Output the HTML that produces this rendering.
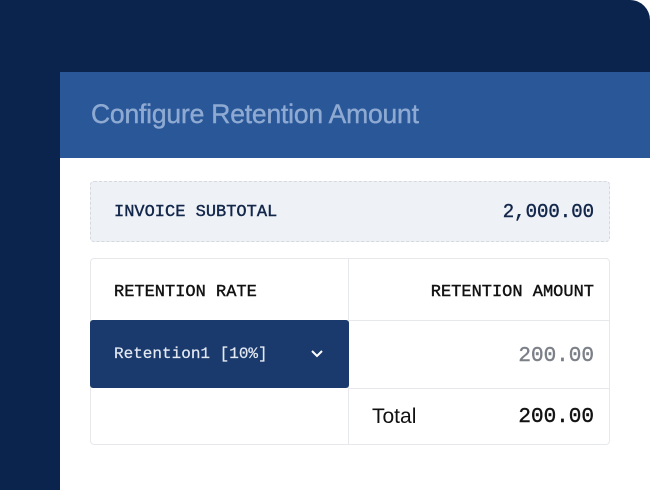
<!DOCTYPE html>
<html><head><style>
*{margin:0;padding:0;box-sizing:border-box}
body{width:650px;height:490px;background:#fff;position:relative;overflow:hidden}
.bg{position:absolute;left:0;top:0;width:650px;height:490px;background:#0b244d;border-radius:0 20px 0 0}
.panel{position:absolute;left:60px;top:72px;width:590px;height:418px;background:#fff}
.hdr{position:absolute;left:60px;top:72px;width:590px;height:86px;background:#2a5798}
.title{position:absolute;left:91px;top:99px;font:26.5px "Liberation Sans",sans-serif;color:#8eaad2;letter-spacing:-0.2px;-webkit-text-stroke:0.4px #8eaad2}
.mono{font-family:"Liberation Mono",monospace;font-size:17px;position:absolute;-webkit-text-stroke:0.4px currentColor}
.sub{position:absolute;left:90px;top:181px;width:520px;height:61px;background:#eef1f6;border:1px dashed #d4d8df;border-radius:4px}
.tbl{position:absolute;left:90px;top:258px;width:520px;height:187px;border:1px solid #e6e8eb;border-radius:4px}
.vl{position:absolute;left:348px;top:258px;width:1px;height:187px;background:#e6e8eb}
.hl{position:absolute;left:349px;width:261px;height:1px;background:#e6e8eb}
.dd{position:absolute;left:90px;top:320px;width:259px;height:68px;background:#1a3a6e;border-radius:3px}
</style></head><body>
<div class="bg"></div>
<div class="panel"></div>
<div class="hdr"></div>
<div class="title">Configure Retention Amount</div>
<div class="sub"></div>
<div class="mono" style="left:114px;top:203px;color:#12264a">INVOICE SUBTOTAL</div>
<div class="mono" style="right:56px;top:201px;color:#12264a;font-size:19px">2,000.00</div>
<div class="tbl"></div>
<div class="vl"></div>
<div class="hl" style="top:320px"></div>
<div class="hl" style="top:388px"></div>
<div class="mono" style="left:114px;top:283px;color:#111">RETENTION RATE</div>
<div class="mono" style="right:56px;top:283px;color:#111">RETENTION AMOUNT</div>
<div class="dd"></div>
<div class="mono" style="left:114px;top:345px;color:#e4e9f2;font-size:16px;-webkit-text-stroke:0.2px #e4e9f2">Retention1 [10%]</div>
<svg style="position:absolute;left:310px;top:349px" width="14" height="10"><path d="M2 2 L7 7 L12 2" stroke="#fff" stroke-width="2" fill="none"/></svg>
<div class="mono" style="right:56px;top:345px;color:#7b7f87;font-size:21px">200.00</div>
<div style="position:absolute;left:372px;top:405px;font:21px 'Liberation Sans',sans-serif;color:#111">Total</div>
<div class="mono" style="right:56px;top:406px;color:#111;font-size:21px">200.00</div>
</body></html>
